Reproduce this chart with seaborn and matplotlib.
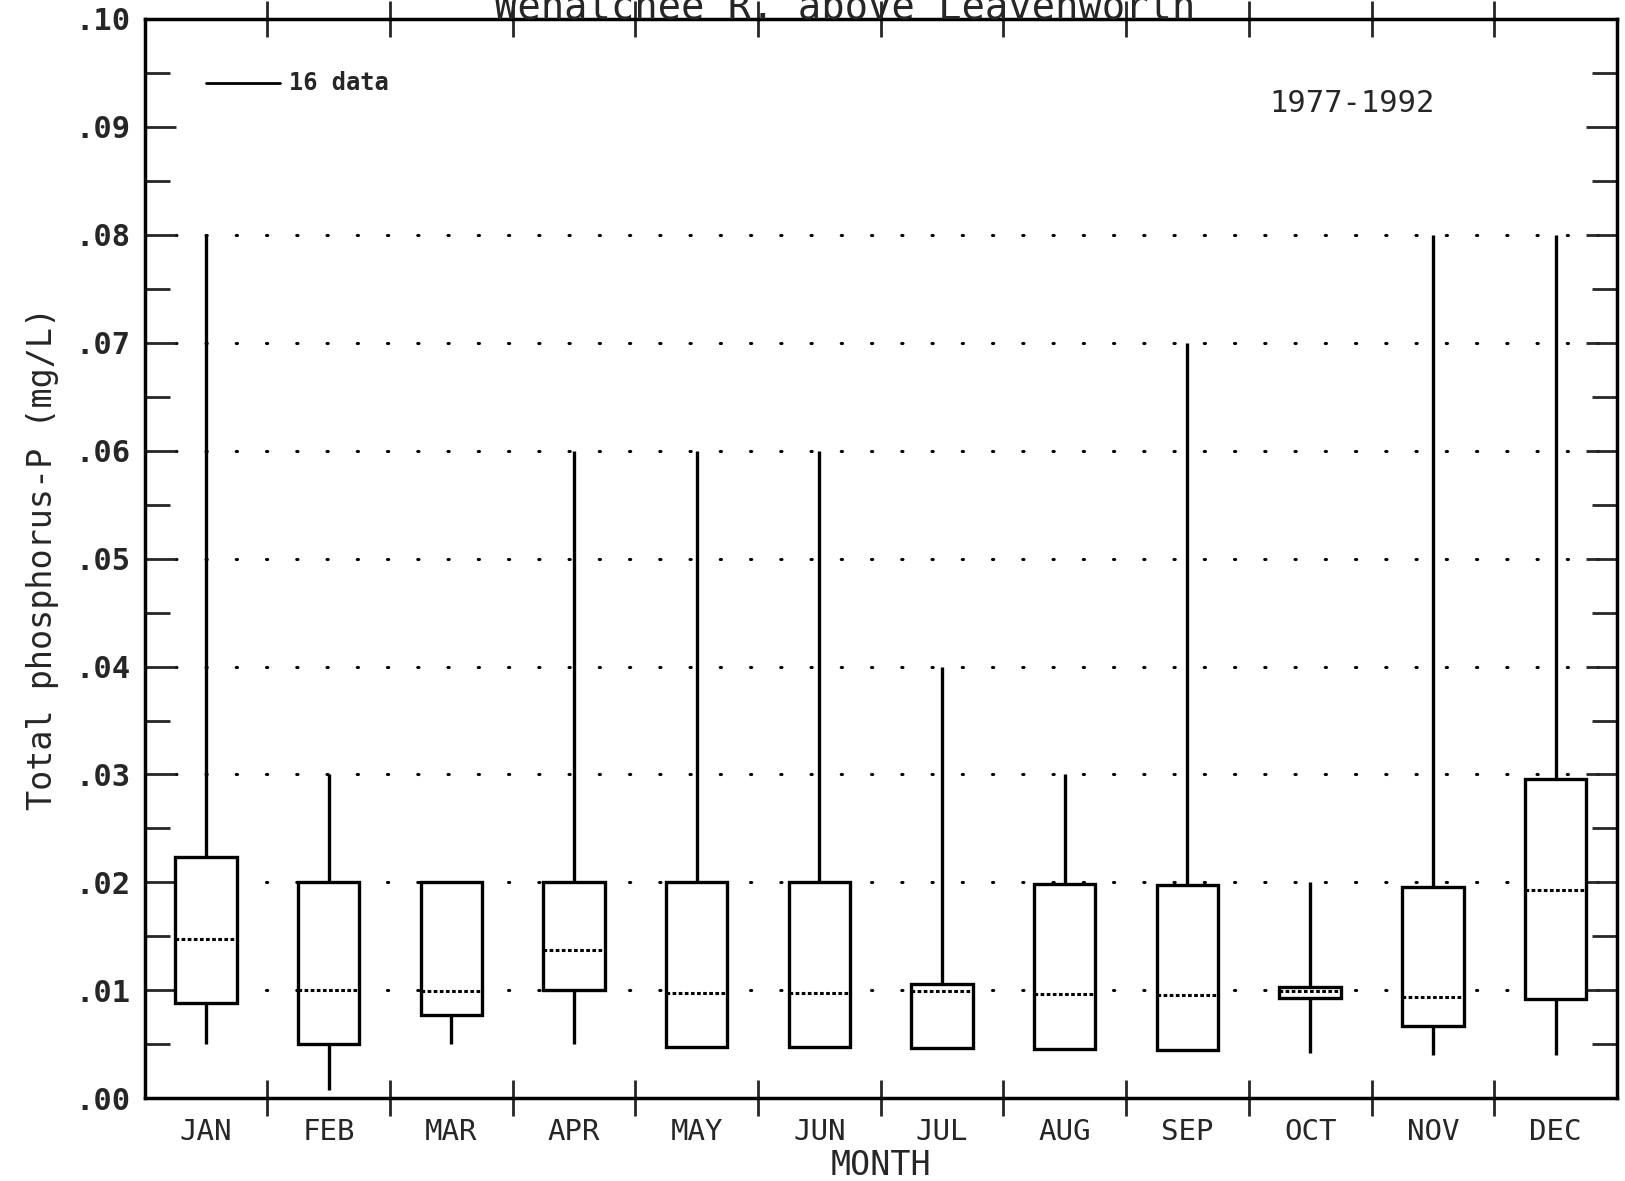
import pandas as pd
import numpy as np
import matplotlib
matplotlib.use("Agg")
import matplotlib.pyplot as plt
import seaborn as sns
from matplotlib.ticker import MultipleLocator, FixedLocator

# monthly box stats (min, q1, median, q3, max), mg/L
months = ['JAN', 'FEB', 'MAR', 'APR', 'MAY', 'JUN',
          'JUL', 'AUG', 'SEP', 'OCT', 'NOV', 'DEC']
p_min = [0.0050, 0.0008, 0.0050, 0.0050, 0.0048, 0.0048, 0.0047, 0.0046, 0.0045, 0.0042, 0.0040, 0.0040]
p_q1 = [0.0088, 0.0050, 0.0077, 0.0100, 0.0048, 0.0048, 0.0047, 0.0046, 0.0045, 0.0093, 0.0067, 0.0092]
p_med = [0.0148, 0.0100, 0.0099, 0.0137, 0.0098, 0.0098, 0.0099, 0.0097, 0.0096, 0.0099, 0.0094, 0.0193]
p_q3 = [0.0224, 0.0200, 0.0200, 0.0200, 0.0200, 0.0200, 0.0106, 0.0199, 0.0198, 0.0103, 0.0196, 0.0296]
p_max = [0.0800, 0.0300, 0.0200, 0.0600, 0.0600, 0.0600, 0.0400, 0.0300, 0.0700, 0.0200, 0.0800, 0.0800]

# five values per month -> quartiles land exactly on q1/median/q3
rows = []
for i, m in enumerate(months):
    for v in (p_min[i], p_q1[i], p_med[i], p_q3[i], p_max[i]):
        rows.append({'month': m, 'tp': v})
df = pd.DataFrame(rows)

sns.set_style("white")
plt.rcParams['font.family'] = ['DejaVu Sans Mono', 'DejaVu Sans']

fig, ax = plt.subplots(figsize=(16.25, 11.81), dpi=100)
fig.subplots_adjust(left=0.089, right=0.995, top=0.984, bottom=0.07)

# dotted reference lines
for g in np.arange(0.01, 0.081, 0.01):
    ax.axhline(g, color='black', lw=2.2, linestyle=(0, (0.4, 9.5)),
               dash_capstyle='round', zorder=0)

sns.boxplot(data=df, x='month', y='tp', order=months, whis=(0, 100),
            width=0.5, color='white', linecolor='black', linewidth=2.4,
            showfliers=False, ax=ax,
            medianprops={'linestyle': (0, (1.2, 0.8)), 'linewidth': 2.2},
            capprops={'linewidth': 0})

ax.set_xlim(-0.5, 11.5)
ax.set_ylim(0, 0.10)

ax.yaxis.set_minor_locator(MultipleLocator(0.005))
ax.set_yticks(np.arange(0, 0.1001, 0.01))
ax.set_yticklabels([f"{v:.2f}"[1:] for v in np.arange(0, 0.1001, 0.01)],
                   fontsize=22, fontweight='bold')
ax.tick_params(axis='y', which='major', direction='in', length=22, width=2,
               left=True, right=True, pad=10)
ax.tick_params(axis='y', which='minor', direction='in', length=18, width=2,
               left=True, right=True)

ax.xaxis.set_minor_locator(FixedLocator(np.arange(0.5, 11, 1)))
ax.tick_params(axis='x', which='major', length=0, pad=14, labelsize=21)
ax.tick_params(axis='x', which='minor', direction='inout', length=26, width=2,
               top=True, bottom=True)

for s in ax.spines.values():
    s.set_linewidth(2.5)
    s.set_color('black')

ax.set_xlabel('MONTH', fontsize=24, labelpad=2)
ax.set_ylabel('Total phosphorus-P (mg/L)', fontsize=24, labelpad=12)

# legend-like note and period
ax.plot([0.0, 0.6], [0.0941, 0.0941], color='black', lw=2)
ax.text(0.68, 0.0941, '16 data', fontsize=17, fontweight='bold', va='center')
ax.text(0.82, 0.922, '1977-1992', fontsize=22, transform=ax.transAxes,
        ha='center', va='center')

fig.text(0.52, 0.994, 'Wenatchee R. above Leavenworth', fontsize=28,
         ha='center', va='center')

plt.savefig('out.png', dpi=100)
